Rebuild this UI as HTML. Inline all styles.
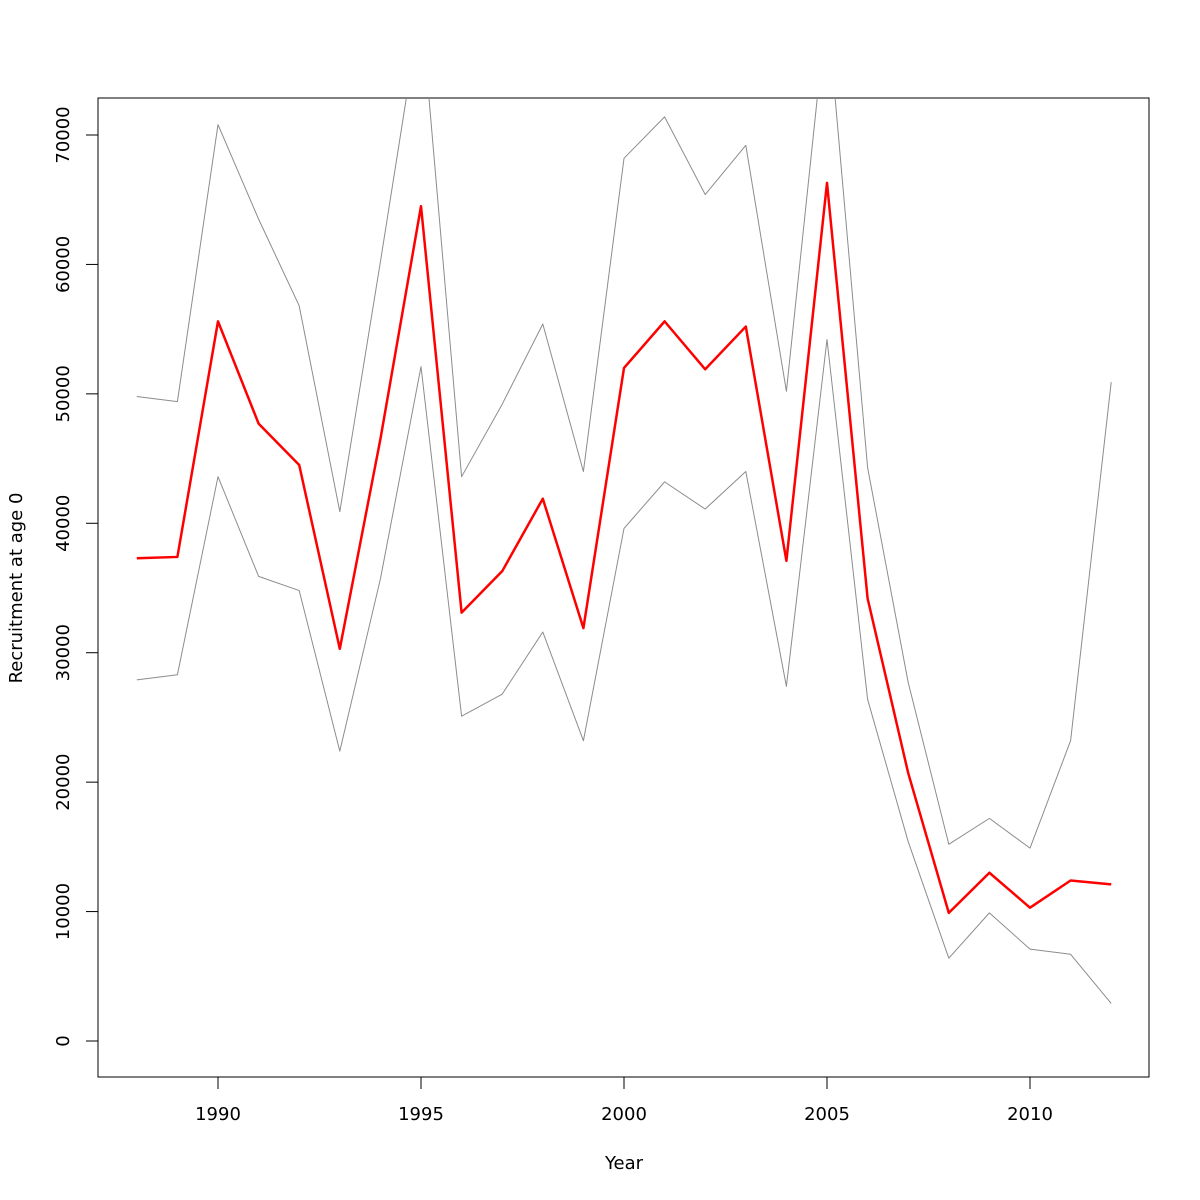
<!DOCTYPE html>
<html><head><meta charset="utf-8"><style>
html,body{margin:0;padding:0;background:#fff;}
svg{display:block;font-family:"DejaVu Sans","Liberation Sans",sans-serif;}
</style></head><body>
<svg id="chart" width="1200" height="1200" viewBox="0 0 1200 1200" xmlns="http://www.w3.org/2000/svg">
<defs><clipPath id="clip"><rect x="98" y="98" width="1051" height="979"/></clipPath></defs>
<rect x="98" y="98" width="1051" height="979" fill="none" stroke="#000" stroke-width="1"/>
<g id="xaxis"></g>
<g id="yaxis"></g>
<g id="series" clip-path="url(#clip)"></g>
<text x="624" y="1169" font-size="18" text-anchor="middle">Year</text>
<text transform="translate(22,588) rotate(-90)" font-size="18" text-anchor="middle">Recruitment at age 0</text>
</svg>
<script>
const years = [1988,1989,1990,1991,1992,1993,1994,1995,1996,1997,1998,1999,2000,2001,2002,2003,2004,2005,2006,2007,2008,2009,2010,2011,2012];
const recruitment = [37300,37400,55600,47700,44500,30300,46500,64500,33100,36300,41900,31900,52000,55600,51900,55200,37100,66300,34200,20700,9900,13000,10300,12400,12100];
const upperBound = [49800,49400,70800,63500,56800,40900,60200,80000,43600,49200,55400,44000,68200,71400,65400,69200,50200,80000,44300,27700,15200,17200,14900,23200,50900];
const lowerBound = [27900,28300,43600,35900,34800,22400,35700,52100,25100,26800,31600,23200,39600,43200,41100,44000,27400,54200,26400,15400,6400,9900,7100,6700,2900];
const xTicks = [1990,1995,2000,2005,2010];
const yTicks = [0,10000,20000,30000,40000,50000,60000,70000];

const NS = "http://www.w3.org/2000/svg";
const xs = v => 218 + (v - 1990) * (1030 - 218) / 20;
const ys = v => 1041 - v * (1041 - 135) / 70000;

const xa = document.getElementById('xaxis');
const ya = document.getElementById('yaxis');
const se = document.getElementById('series');

function mk(tag, attrs, parent){const e=document.createElementNS(NS,tag);for(const k in attrs)e.setAttribute(k,attrs[k]);parent.appendChild(e);return e;}

mk('line',{x1:xs(xTicks[0]),x2:xs(xTicks[xTicks.length-1]),y1:1077,y2:1077,stroke:'#000'},xa);
xTicks.forEach(t=>{
  const l=mk('line',{x1:xs(t),x2:xs(t),y1:1077,y2:1089,stroke:'#000'},xa);
  
  
  const tx=mk('text',{x:xs(t),y:1120,'font-size':18,'text-anchor':'middle'},xa);
  tx.textContent=t;
  
  
});
mk('line',{x1:98,x2:98,y1:ys(yTicks[0]),y2:ys(yTicks[yTicks.length-1]),stroke:'#000'},ya);
yTicks.forEach(t=>{
  const l=mk('line',{x1:86,x2:98,y1:ys(t),y2:ys(t),stroke:'#000'},ya);
  
  
  const tx=mk('text',{transform:`translate(69,${ys(t)}) rotate(-90)`,'font-size':18,'text-anchor':'middle'},ya);
  tx.textContent=t;
  
  
});

function line(vals,color,w,name){
  const p=mk('polyline',{points:vals.map((v,i)=>xs(years[i])+','+ys(v)).join(' '),fill:'none',stroke:color,'stroke-width':w,'stroke-linejoin':'round'},se);
  
  
}
line(upperBound,'#8c8c8c',1,'upper-bound-line');
line(lowerBound,'#8c8c8c',1,'lower-bound-line');
line(recruitment,'#ff0000',2.5,'recruitment-line');
</script>
</body></html>
